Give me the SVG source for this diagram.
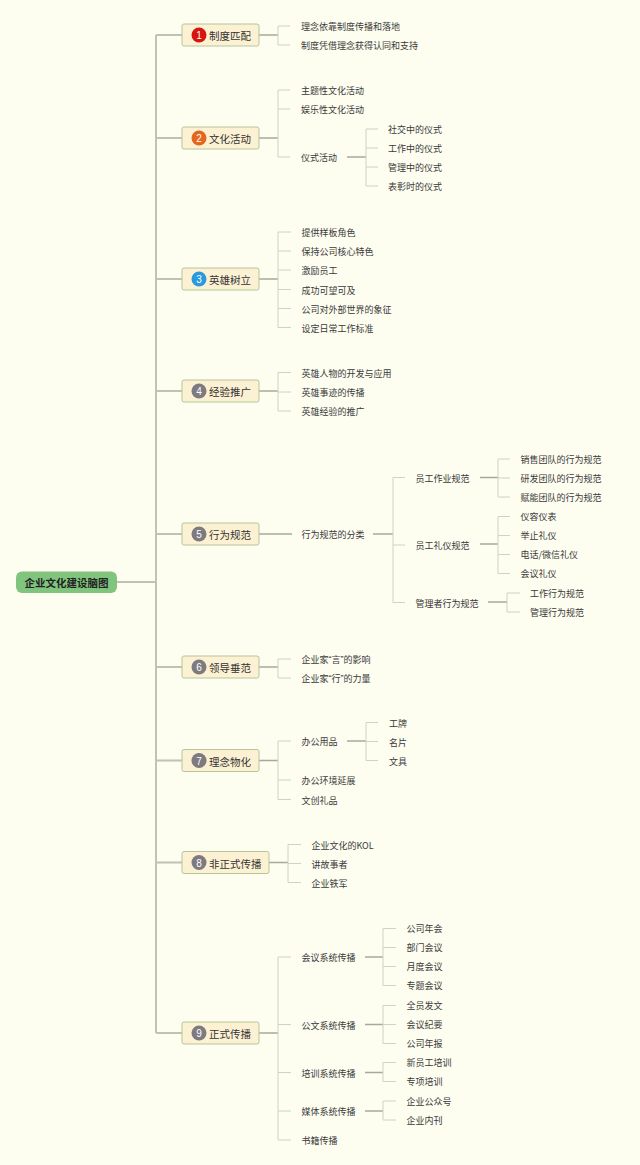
<svg xmlns="http://www.w3.org/2000/svg" width="640" height="1165" viewBox="0 0 640 1165">
<style>
.bg{fill:#fdfdf0}
.trunk{stroke:#c2c2b2;stroke-width:2;fill:none}
.main{stroke:#a9a999;stroke-width:1.3;fill:none}
.br{stroke:#d2d2c2;stroke-width:1;fill:none}
.box{fill:#fcf1d2;stroke:#b5c69c;stroke-width:1}
.lbl{font-family:"Noto Sans CJK SC","Noto Sans",sans-serif;font-size:10.5px;fill:#333;dominant-baseline:central}
.t{font-family:"Noto Sans CJK SC","Noto Sans",sans-serif;font-size:9px;fill:#3a3a3a;dominant-baseline:central}
.q{font-family:"Liberation Sans",Arial,sans-serif}
.num{font-family:"Liberation Sans",Arial,sans-serif;font-size:10px;fill:#fff;text-anchor:middle;dominant-baseline:central}
.root{font-family:"Noto Sans CJK SC","Noto Sans",sans-serif;font-size:10.5px;font-weight:bold;fill:#222;text-anchor:middle;dominant-baseline:central}
</style>
<rect class="bg" x="0" y="0" width="640" height="1165"/>
<g id="connectors">
<path class="trunk" d="M117 582H156M156 35V1033"/>
<path class="trunk" d="M156 35H182M156 138H182M156 279H182M156 391H182M156 534H182M156 667H182M156 760.5H182M156 862.5H182M156 1033H182"/>
<path class="main" d="M259 35H278M259 138H278M259 279H278M259 391H278M259 534H292M259 667H278M259 760.5H278M269 862.5H288M259 1033H278"/>
<path class="main" d="M347 157H366M373 534H393M480 477.5H498M480 544H498M488 602H507M347 741H366M365 957H383M365 1024.5H383M365 1072.5H383M365 1111H383"/>
<path class="br" d="M278 26V45M278 26H290M278 45H290"/>
<path class="br" d="M278 90V157M278 90H290M278 109H290M278 157H290"/>
<path class="br" d="M366 129V186M366 129H378M366 148H378M366 167H378M366 186H378"/>
<path class="br" d="M278 232V327.5M278 232H291M278 251H291M278 270H291M278 289.5H291M278 308.5H291M278 327.5H291"/>
<path class="br" d="M278 372.5V411M278 372.5H291M278 392H291M278 411H291"/>
<path class="br" d="M393 477.5V602.5M393 477.5H405M393 545H405M393 602.5H405"/>
<path class="br" d="M498 459V497M498 459H510M498 478H510M498 497H510"/>
<path class="br" d="M498 516.5V573.5M498 516.5H510M498 535.5H510M498 554.5H510M498 573.5H510"/>
<path class="br" d="M507 593V612M507 593H520M507 612H520"/>
<path class="br" d="M278 659V678M278 659H291M278 678H291"/>
<path class="br" d="M278 741V799.5M278 741H291M278 780H291M278 799.5H291"/>
<path class="br" d="M366 722.5V760.5M366 722.5H378M366 741.5H378M366 760.5H378"/>
<path class="br" d="M288 844.5V882.5M288 844.5H301M288 863.5H301M288 882.5H301"/>
<path class="br" d="M278 957V1140M278 957H291M278 1024.5H291M278 1072.5H291M278 1111H291M278 1140H291"/>
<path class="br" d="M383 928.5V985.5M383 928.5H396M383 947.5H396M383 966.5H396M383 985.5H396"/>
<path class="br" d="M383 1005.5V1043.5M383 1005.5H396M383 1024.5H396M383 1043.5H396"/>
<path class="br" d="M383 1062.5V1081.5M383 1062.5H396M383 1081.5H396"/>
<path class="br" d="M383 1101V1120M383 1101H396M383 1120H396"/>
</g>
<g id="root">
<rect x="16" y="571.5" width="101" height="21.5" rx="6" fill="#80c47e"/>
<text class="root" x="66.5" y="582.5">企业文化建设脑图</text>
</g>
<g id="n1">
<rect class="box" x="182" y="24" width="77" height="22" rx="2"/>
<circle cx="199" cy="35" r="7.5" fill="#d5150e"/>
<text class="num" x="199" y="35.5">1</text>
<text class="lbl" x="209" y="35.5">制度匹配</text>
<text class="t" x="301" y="26.5">理念依靠制度传播和落地</text>
<text class="t" x="301" y="45.5">制度凭借理念获得认同和支持</text>
</g>
<g id="n2">
<rect class="box" x="182" y="127" width="77" height="22" rx="2"/>
<circle cx="199" cy="138" r="7.5" fill="#e3661c"/>
<text class="num" x="199" y="138.5">2</text>
<text class="lbl" x="209" y="138.5">文化活动</text>
<text class="t" x="301" y="90.5">主题性文化活动</text>
<text class="t" x="301" y="109.5">娱乐性文化活动</text>
<text class="t" x="301" y="157.5">仪式活动</text>
<text class="t" x="388" y="129">社交中的仪式</text>
<text class="t" x="388" y="148">工作中的仪式</text>
<text class="t" x="388" y="167.5">管理中的仪式</text>
<text class="t" x="388" y="186.5">表彰时的仪式</text>
</g>
<g id="n3">
<rect class="box" x="182" y="268" width="77" height="22" rx="2"/>
<circle cx="199" cy="279" r="7.5" fill="#2a9ade"/>
<text class="num" x="199" y="279.5">3</text>
<text class="lbl" x="209" y="279.5">英雄树立</text>
<text class="t" x="301.5" y="232.5">提供样板角色</text>
<text class="t" x="301.5" y="251.5">保持公司核心特色</text>
<text class="t" x="301.5" y="270.5">激励员工</text>
<text class="t" x="301.5" y="290">成功可望可及</text>
<text class="t" x="301.5" y="309">公司对外部世界的象征</text>
<text class="t" x="301.5" y="328">设定日常工作标准</text>
</g>
<g id="n4">
<rect class="box" x="182" y="380" width="77" height="22" rx="2"/>
<circle cx="199" cy="391" r="7.5" fill="#7e7a7f"/>
<text class="num" x="199" y="391.5">4</text>
<text class="lbl" x="209" y="391.5">经验推广</text>
<text class="t" x="301.5" y="373">英雄人物的开发与应用</text>
<text class="t" x="301.5" y="392">英雄事迹的传播</text>
<text class="t" x="301.5" y="411">英雄经验的推广</text>
</g>
<g id="n5">
<rect class="box" x="182" y="523" width="77" height="22" rx="2"/>
<circle cx="199" cy="534" r="7.5" fill="#7e7a7f"/>
<text class="num" x="199" y="534.5">5</text>
<text class="lbl" x="209" y="534.5">行为规范</text>
<text class="t" x="301.5" y="534.5">行为规范的分类</text>
<text class="t" x="415.5" y="478">员工作业规范</text>
<text class="t" x="415.5" y="545.5">员工礼仪规范</text>
<text class="t" x="415.5" y="603">管理者行为规范</text>
<text class="t" x="520.5" y="459">销售团队的行为规范</text>
<text class="t" x="520.5" y="478">研发团队的行为规范</text>
<text class="t" x="520.5" y="497">赋能团队的行为规范</text>
<text class="t" x="520.5" y="516.5">仪容仪表</text>
<text class="t" x="520.5" y="535.5">举止礼仪</text>
<text class="t" x="520.5" y="554.5">电话/微信礼仪</text>
<text class="t" x="520.5" y="573.5">会议礼仪</text>
<text class="t" x="530" y="593.5">工作行为规范</text>
<text class="t" x="530" y="612.5">管理行为规范</text>
</g>
<g id="n6">
<rect class="box" x="182" y="656" width="77" height="22" rx="2"/>
<circle cx="199" cy="667" r="7.5" fill="#7e7a7f"/>
<text class="num" x="199" y="667.5">6</text>
<text class="lbl" x="209" y="667.5">领导垂范</text>
<text class="t" x="301.5" y="659">企业家<tspan class="q">“</tspan>言<tspan class="q">”</tspan>的影响</text>
<text class="t" x="301.5" y="678">企业家<tspan class="q">“</tspan>行<tspan class="q">”</tspan>的力量</text>
</g>
<g id="n7">
<rect class="box" x="182" y="749.5" width="77" height="22" rx="2"/>
<circle cx="199" cy="760.5" r="7.5" fill="#7e7a7f"/>
<text class="num" x="199" y="761">7</text>
<text class="lbl" x="209" y="761">理念物化</text>
<text class="t" x="301.5" y="741.5">办公用品</text>
<text class="t" x="301.5" y="780.5">办公环境延展</text>
<text class="t" x="301.5" y="800">文创礼品</text>
<text class="t" x="389" y="723">工牌</text>
<text class="t" x="389" y="742">名片</text>
<text class="t" x="389" y="761">文具</text>
</g>
<g id="n8">
<rect class="box" x="182" y="851.5" width="87" height="22" rx="2"/>
<circle cx="199" cy="862.5" r="7.5" fill="#7e7a7f"/>
<text class="num" x="199" y="863">8</text>
<text class="lbl" x="209" y="863">非正式传播</text>
<text class="t" x="311.5" y="845">企业文化的KOL</text>
<text class="t" x="311.5" y="864">讲故事者</text>
<text class="t" x="311.5" y="883">企业铁军</text>
</g>
<g id="n9">
<rect class="box" x="182" y="1022" width="77" height="22" rx="2"/>
<circle cx="199" cy="1033" r="7.5" fill="#7e7a7f"/>
<text class="num" x="199" y="1033.5">9</text>
<text class="lbl" x="209" y="1033.5">正式传播</text>
<text class="t" x="301.5" y="957.5">会议系统传播</text>
<text class="t" x="301.5" y="1025">公文系统传播</text>
<text class="t" x="301.5" y="1073">培训系统传播</text>
<text class="t" x="301.5" y="1111.5">媒体系统传播</text>
<text class="t" x="301.5" y="1140.5">书籍传播</text>
<text class="t" x="406.5" y="928.5">公司年会</text>
<text class="t" x="406.5" y="947.5">部门会议</text>
<text class="t" x="406.5" y="966.5">月度会议</text>
<text class="t" x="406.5" y="985.5">专题会议</text>
<text class="t" x="406.5" y="1005.5">全员发文</text>
<text class="t" x="406.5" y="1024.5">会议纪要</text>
<text class="t" x="406.5" y="1043.5">公司年报</text>
<text class="t" x="406.5" y="1062.5">新员工培训</text>
<text class="t" x="406.5" y="1081.5">专项培训</text>
<text class="t" x="406.5" y="1101">企业公众号</text>
<text class="t" x="406.5" y="1120">企业内刊</text>
</g>
</svg>
